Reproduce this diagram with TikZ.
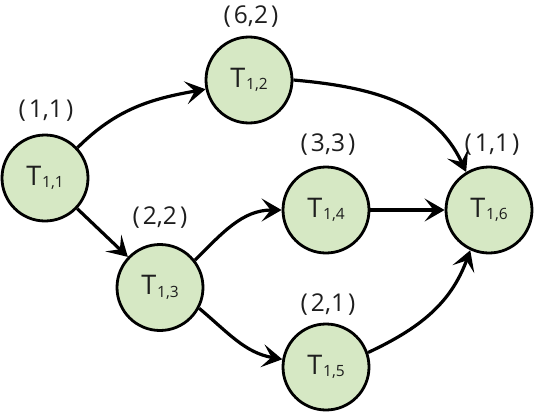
\documentclass[tikz,border=0pt]{standalone}
\usepackage{fontspec}
\setmainfont{Open Sans}
\usetikzlibrary{arrows.meta}
\definecolor{nodefill}{RGB}{214,232,196}
\definecolor{txt}{RGB}{30,30,30}
\newcommand\Tlab[1]{T\hspace{1pt}\raisebox{-2.5pt}{\fontsize{15.5}{15.5}\selectfont #1}}
\newcommand\Clab[1]{(\hspace{3pt}#1\hspace{3pt})}
\tikzset{
  task/.style={circle, draw=black, fill=nodefill, line width=2.8pt, minimum size=86pt, inner sep=0pt,
    text=txt, font=\fontsize{27}{27}\selectfont},
  costlab/.style={text=txt, font=\fontsize{24.5}{24.5}\selectfont, inner sep=0pt},
  edge/.style={line width=3.2pt, -{Stealth[length=20pt,width=23pt,inset=9pt]}}
}
\begin{document}
\begin{tikzpicture}[x=1pt,y=1pt]
\useasboundingbox (0,0) rectangle (534,416);
\node[task] (T11) at (45,238) {\Tlab{1,1}};
\node[task] (T12) at (249,336) {\Tlab{1,2}};
\node[task] (T13) at (160,128.5) {\Tlab{1,3}};
\node[task] (T14) at (326,206) {\Tlab{1,4}};
\node[task] (T15) at (326,49) {\Tlab{1,5}};
\node[task] (T16) at (489,206) {\Tlab{1,6}};
\node[costlab] (L11) at (46,305) {\Clab{1,1}};
\node[costlab] (L12) at (251,399) {\Clab{6,2}};
\node[costlab] (L13) at (160,198) {\Clab{2,2}};
\node[costlab] (L14) at (328,271) {\Clab{3,3}};
\node[costlab] (L16) at (492,271) {\Clab{1,1}};
\node[costlab] (L15) at (328,111) {\Clab{2,1}};
\draw[edge] (T11.43) to[out=45,in=190] (T12.192);
\draw[edge] (T11) -- (T13);
\draw[edge] (T13.38) to[out=45,in=180] (T14.180);
\draw[edge] (T13.-28) to[out=-40,in=170] (T15.170);
\draw[edge] (T14) -- (T16);
\draw[edge] (T12.0) to[out=-5,in=115] (T16.121);
\draw[edge] (T15.19) to[out=25,in=-110] (T16.245);
\end{tikzpicture}
\end{document}
